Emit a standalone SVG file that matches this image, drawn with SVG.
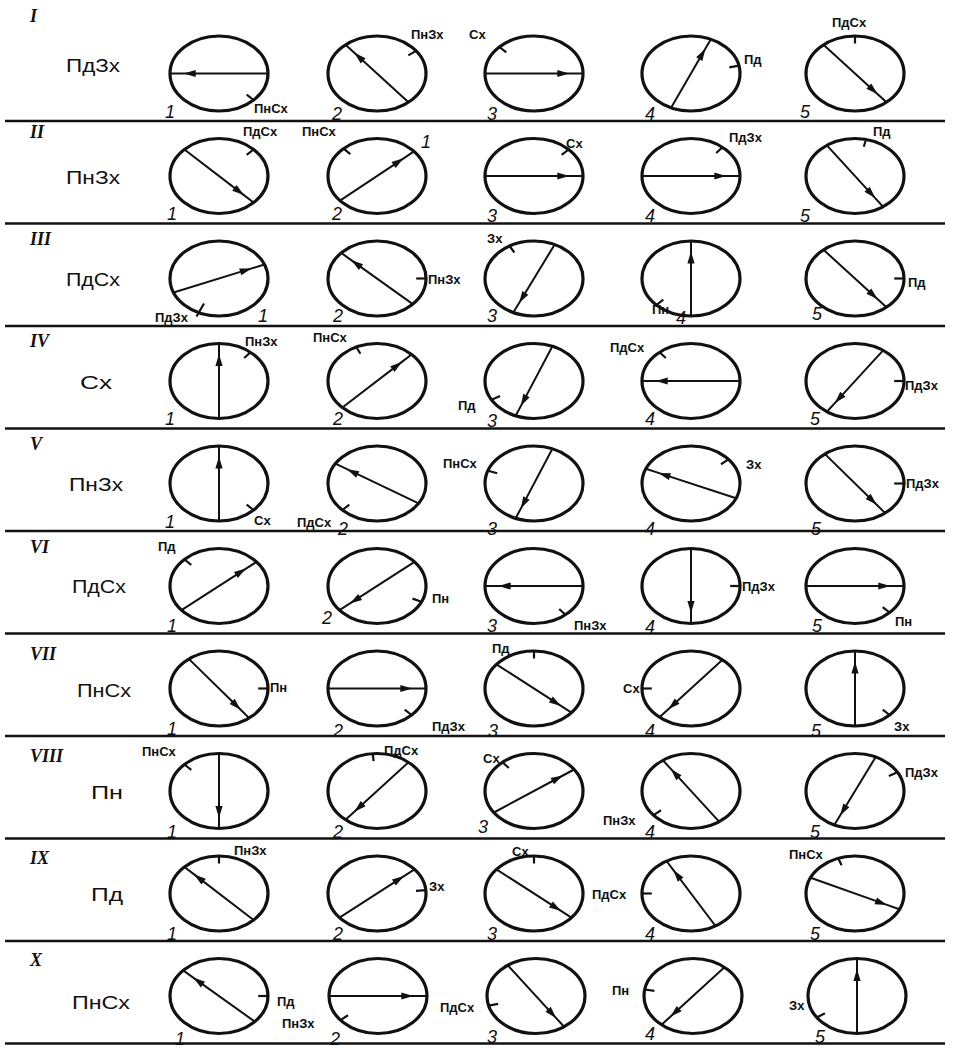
<svg xmlns="http://www.w3.org/2000/svg" width="960" height="1048" viewBox="0 0 960 1048">
<style>
.c{fill:none;stroke:#111;stroke-width:3.2}
.a{fill:none;stroke:#111;stroke-width:2;marker-mid:url(#ah)}
.t{stroke:#111;stroke-width:2.2}
.sep{stroke:#111;stroke-width:2.5}
.lb{font-family:"Liberation Sans",Arial,sans-serif;font-size:13px;font-weight:bold;fill:#111}
.rl{font-family:"Liberation Sans",Arial,sans-serif;font-size:19px;fill:#111}
.rn{font-family:"Liberation Serif","Times New Roman",serif;font-size:18px;font-weight:bold;font-style:italic;fill:#111}
.n{font-family:"Liberation Sans",Arial,sans-serif;font-size:18px;font-style:italic;fill:#111}
</style>
<defs>
<marker id="ah" viewBox="-13 -4.5 14 9" refX="0" refY="0" markerWidth="14" markerHeight="9" markerUnits="userSpaceOnUse" orient="auto"><path d="M0,0 L-12,-3.6 L-12,3.6 Z" fill="#111"/></marker>
</defs>
<rect width="960" height="1048" fill="#fff"/>
<g id="separators">
<line class="sep" x1="5" y1="121" x2="945" y2="121"/>
<line class="sep" x1="5" y1="223.5" x2="945" y2="223.5"/>
<line class="sep" x1="5" y1="326" x2="945" y2="326"/>
<line class="sep" x1="5" y1="428.5" x2="945" y2="428.5"/>
<line class="sep" x1="5" y1="531" x2="945" y2="531"/>
<line class="sep" x1="5" y1="633.5" x2="945" y2="633.5"/>
<line class="sep" x1="5" y1="736" x2="945" y2="736"/>
<line class="sep" x1="5" y1="838.5" x2="945" y2="838.5"/>
<line class="sep" x1="5" y1="941" x2="945" y2="941"/>
<line class="sep" x1="5" y1="1043.5" x2="945" y2="1043.5"/>
</g>
<g id="row-headers">
<text class="rn" x="30" y="22">I</text><text class="rl" x="66" y="72" textLength="54" lengthAdjust="spacingAndGlyphs">ПдЗх</text>
<text class="rn" x="30" y="138">II</text><text class="rl" x="66" y="184" textLength="54" lengthAdjust="spacingAndGlyphs">ПнЗх</text>
<text class="rn" x="30" y="245">III</text><text class="rl" x="66" y="286" textLength="54" lengthAdjust="spacingAndGlyphs">ПдСх</text>
<text class="rn" x="30" y="347">IV</text><text class="rl" x="80" y="389" textLength="32" lengthAdjust="spacingAndGlyphs">Сх</text>
<text class="rn" x="30" y="450">V</text><text class="rl" x="69" y="491" textLength="54" lengthAdjust="spacingAndGlyphs">ПнЗх</text>
<text class="rn" x="30" y="553">VI</text><text class="rl" x="72" y="593" textLength="54" lengthAdjust="spacingAndGlyphs">ПдСх</text>
<text class="rn" x="30" y="660">VII</text><text class="rl" x="77" y="697" textLength="54" lengthAdjust="spacingAndGlyphs">ПнСх</text>
<text class="rn" x="30" y="762">VIII</text><text class="rl" x="91" y="799" textLength="32" lengthAdjust="spacingAndGlyphs">Пн</text>
<text class="rn" x="30" y="864">IX</text><text class="rl" x="91" y="901" textLength="32" lengthAdjust="spacingAndGlyphs">Пд</text>
<text class="rn" x="30" y="966">X</text><text class="rl" x="72" y="1009" textLength="58" lengthAdjust="spacingAndGlyphs">ПнСх</text>
</g>

<!-- Row I -->
<g id="n1-1"><g transform="translate(219,73.5)"><ellipse class="c" rx="49" ry="37.5"/><path class="a" d="M49,0 L-35.3,0 L-49,0"/><line class="t" x1="27.7" y1="21.2" x2="34.6" y2="26.5"/></g><text class="lb" x="254" y="113">ПнСх</text><text class="n" x="165" y="118">1</text></g>
<g id="n1-2"><g transform="translate(377,73.5)"><ellipse class="c" rx="49" ry="37.5"/><path class="a" d="M31.5,28.7 L-22.7,-20.7 L-31.5,-28.7"/><line class="t" x1="31.3" y1="-18.1" x2="39.1" y2="-22.6"/></g><text class="lb" x="411" y="39">ПнЗх</text><text class="n" x="332" y="120">2</text></g>
<g id="n1-3"><g transform="translate(534,73.5)"><ellipse class="c" rx="49" ry="37.5"/><path class="a" d="M-49,0 L35.3,0 L49,0"/><line class="t" x1="-27.7" y1="-21.2" x2="-34.6" y2="-26.5"/></g><text class="lb" x="469" y="39">Сх</text><text class="n" x="487" y="120">3</text></g>
<g id="n1-4"><g transform="translate(691,73.5)"><ellipse class="c" rx="49" ry="37.5"/><path class="a" d="M-19.9,34.3 L14.3,-24.7 L19.9,-34.3"/><line class="t" x1="38.3" y1="-6.2" x2="47.9" y2="-7.8"/></g><text class="lb" x="744" y="64">Пд</text><text class="n" x="645" y="120">4</text></g>
<g id="n1-5"><g transform="translate(855,73.5)"><ellipse class="c" rx="49" ry="37.5"/><path class="a" d="M-31.5,-28.7 L22.7,20.7 L31.5,28.7"/><line class="t" x1="0" y1="-30" x2="0" y2="-37.5"/></g><text class="lb" x="832" y="27">ПдСх</text><text class="n" x="800" y="118">5</text></g>

<!-- Row II -->
<g id="n2-1"><g transform="translate(219,176)"><ellipse class="c" rx="49" ry="37.5"/><path class="a" d="M-34.6,-26.5 L24.9,19.1 L34.6,26.5"/><line class="t" x1="27.7" y1="-21.2" x2="34.6" y2="-26.5"/></g><text class="lb" x="243" y="136">ПдСх</text><text class="n" x="167" y="220">1</text></g>
<g id="n2-2"><g transform="translate(377,176)"><ellipse class="c" rx="49" ry="37.5"/><path class="a" d="M-37,24.6 L26.6,-17.7 L37,-24.6"/><line class="t" x1="-26.7" y1="-21.9" x2="-33.4" y2="-27.4"/></g><text class="lb" x="302" y="136">ПнСх</text><text class="n" x="421" y="148">1</text><text class="n" x="332" y="220">2</text></g>
<g id="n2-3"><g transform="translate(534,176)"><ellipse class="c" rx="49" ry="37.5"/><path class="a" d="M-49,0 L35.3,0 L49,0"/><line class="t" x1="27.7" y1="-21.2" x2="34.6" y2="-26.5"/></g><text class="lb" x="566" y="148">Сх</text><text class="n" x="487" y="222">3</text></g>
<g id="n2-4"><g transform="translate(691,176)"><ellipse class="c" rx="49" ry="37.5"/><path class="a" d="M-49,0 L35.3,0 L49,0"/><line class="t" x1="25.2" y1="-23" x2="31.5" y2="-28.7"/></g><text class="lb" x="729" y="142">ПдЗх</text><text class="n" x="645" y="222">4</text></g>
<g id="n2-5"><g transform="translate(855,176)"><ellipse class="c" rx="49" ry="37.5"/><path class="a" d="M-28.1,-30.7 L20.2,22.1 L28.1,30.7"/><line class="t" x1="8.8" y1="-29.2" x2="11" y2="-36.5"/></g><text class="lb" x="873" y="136">Пд</text><text class="n" x="800" y="222">5</text></g>

<!-- Row III -->
<g id="n3-1"><g transform="translate(219,278.5)"><ellipse class="c" rx="49" ry="37.5"/><path class="a" d="M-45.4,14 L32.7,-10.1 L45.4,-14"/><line class="t" x1="-15" y1="25" x2="-22.5" y2="38"/></g><text class="lb" x="155" y="322">ПдЗх</text><text class="n" x="258" y="322">1</text></g>
<g id="n3-2"><g transform="translate(377,278.5)"><ellipse class="c" rx="49" ry="37.5"/><path class="a" d="M35.8,25.6 L-25.8,-18.4 L-35.8,-25.6"/><line class="t" x1="39.2" y1="0" x2="50" y2="0"/></g><text class="lb" x="428" y="284">ПнЗх</text><text class="n" x="333" y="322">2</text></g>
<g id="n3-3"><g transform="translate(534,278.5)"><ellipse class="c" rx="49" ry="37.5"/><path class="a" d="M20.7,-34 L-14.9,24.5 L-20.7,34"/><line class="t" x1="-19.6" y1="-26" x2="-24.5" y2="-32.5"/></g><text class="lb" x="487" y="243">Зх</text><text class="n" x="487" y="322">3</text></g>
<g id="n3-4"><g transform="translate(691,278.5)"><ellipse class="c" rx="49" ry="37.5"/><path class="a" d="M0,37.5 L0,-27 L0,-37.5"/><line class="t" x1="-27.7" y1="21.2" x2="-34.6" y2="26.5"/></g><text class="lb" x="652" y="314">Пн</text><text class="n" x="676" y="324">4</text></g>
<g id="n3-5"><g transform="translate(855,278.5)"><ellipse class="c" rx="49" ry="37.5"/><path class="a" d="M-31.5,-28.7 L22.7,20.7 L31.5,28.7"/><line class="t" x1="39.2" y1="0" x2="50" y2="0"/></g><text class="lb" x="908" y="287">Пд</text><text class="n" x="812" y="320">5</text></g>

<!-- Row IV -->
<g id="n4-1"><g transform="translate(219,381)"><ellipse class="c" rx="49" ry="37.5"/><path class="a" d="M0,37.5 L0,-27 L0,-37.5"/><line class="t" x1="25.2" y1="-23" x2="31.5" y2="-28.7"/></g><text class="lb" x="245" y="346">ПнЗх</text><text class="n" x="165" y="425">1</text></g>
<g id="n4-2"><g transform="translate(377,381)"><ellipse class="c" rx="49" ry="37.5"/><path class="a" d="M-34.6,26.5 L24.9,-19.1 L34.6,-26.5"/><line class="t" x1="-16.6" y1="-27.2" x2="-20.7" y2="-34"/></g><text class="lb" x="313" y="342">ПнСх</text><text class="n" x="333" y="425">2</text></g>
<g id="n4-3"><g transform="translate(534,381)"><ellipse class="c" rx="49" ry="37.5"/><path class="a" d="M18.4,-34.8 L-13.2,25.1 L-18.4,34.8"/><line class="t" x1="-33.9" y1="15" x2="-42.4" y2="18.8"/></g><text class="lb" x="458" y="410">Пд</text><text class="n" x="487" y="427">3</text></g>
<g id="n4-4"><g transform="translate(691,381)"><ellipse class="c" rx="49" ry="37.5"/><path class="a" d="M49,0 L-35.3,0 L-49,0"/><line class="t" x1="-25.2" y1="-23" x2="-31.5" y2="-28.7"/></g><text class="lb" x="610" y="352">ПдСх</text><text class="n" x="645" y="425">4</text></g>
<g id="n4-5"><g transform="translate(855,381)"><ellipse class="c" rx="49" ry="37.5"/><path class="a" d="M28.1,-30.7 L-20.2,22.1 L-28.1,30.7"/><line class="t" x1="39.2" y1="0" x2="50" y2="0"/></g><text class="lb" x="905" y="390">ПдЗх</text><text class="n" x="810" y="425">5</text></g>

<!-- Row V -->
<g id="n5-1"><g transform="translate(219,483.5)"><ellipse class="c" rx="49" ry="37.5"/><path class="a" d="M0,37.5 L0,-27 L0,-37.5"/><line class="t" x1="27.7" y1="21.2" x2="34.6" y2="26.5"/></g><text class="lb" x="254" y="525">Сх</text><text class="n" x="165" y="528">1</text></g>
<g id="n5-2"><g transform="translate(377,483.5)"><ellipse class="c" rx="49" ry="37.5"/><path class="a" d="M41.6,19.9 L-30,-14.3 L-41.6,-19.9"/><line class="t" x1="-27.7" y1="21.2" x2="-34.6" y2="26.5"/></g><text class="lb" x="297" y="527">ПдСх</text><text class="n" x="338" y="535">2</text></g>
<g id="n5-3"><g transform="translate(534,483.5)"><ellipse class="c" rx="49" ry="37.5"/><path class="a" d="M18.4,-34.8 L-13.2,25.1 L-18.4,34.8"/><line class="t" x1="-36.8" y1="-10.2" x2="-46" y2="-12.8"/></g><text class="lb" x="443" y="468">ПнСх</text><text class="n" x="487" y="535">3</text></g>
<g id="n5-4"><g transform="translate(691,483.5)"><ellipse class="c" rx="49" ry="37.5"/><path class="a" d="M45.1,14.7 L-32.5,-10.6 L-45.1,-14.7"/><line class="t" x1="30" y1="-19.3" x2="37.5" y2="-24.1"/></g><text class="lb" x="746" y="469">Зх</text><text class="n" x="645" y="535">4</text></g>
<g id="n5-5"><g transform="translate(855,483.5)"><ellipse class="c" rx="49" ry="37.5"/><path class="a" d="M-30.2,-29.6 L21.7,21.3 L30.2,29.6"/><line class="t" x1="39.2" y1="0" x2="50" y2="0"/></g><text class="lb" x="906" y="488">ПдЗх</text><text class="n" x="811" y="535">5</text></g>

<!-- Row VI -->
<g id="n6-1"><g transform="translate(219,586)"><ellipse class="c" rx="49" ry="37.5"/><path class="a" d="M-37.5,24.1 L27,-17.4 L37.5,-24.1"/><line class="t" x1="-27.7" y1="-21.2" x2="-34.6" y2="-26.5"/></g><text class="lb" x="158" y="551">Пд</text><text class="n" x="167" y="632">1</text></g>
<g id="n6-2"><g transform="translate(377,586)"><ellipse class="c" rx="49" ry="37.5"/><path class="a" d="M37.5,-24.1 L-27,17.4 L-37.5,24.1"/><line class="t" x1="35.5" y1="12.6" x2="44.4" y2="15.8"/></g><text class="lb" x="432" y="603">Пн</text><text class="n" x="322" y="624">2</text></g>
<g id="n6-3"><g transform="translate(534,586)"><ellipse class="c" rx="49" ry="37.5"/><path class="a" d="M49,0 L-35.3,0 L-49,0"/><line class="t" x1="25.2" y1="23" x2="31.5" y2="28.7"/></g><text class="lb" x="574" y="630">ПнЗх</text><text class="n" x="487" y="632">3</text></g>
<g id="n6-4"><g transform="translate(691,586)"><ellipse class="c" rx="49" ry="37.5"/><path class="a" d="M0,-37.5 L0,27 L0,37.5"/><line class="t" x1="39.2" y1="0" x2="50" y2="0"/></g><text class="lb" x="742" y="591">ПдЗх</text><text class="n" x="645" y="633">4</text></g>
<g id="n6-5"><g transform="translate(855,586)"><ellipse class="c" rx="49" ry="37.5"/><path class="a" d="M-49,0 L35.3,0 L49,0"/><line class="t" x1="27.7" y1="21.2" x2="34.6" y2="26.5"/></g><text class="lb" x="895" y="626">Пн</text><text class="n" x="812" y="632">5</text></g>

<!-- Row VII -->
<g id="n7-1"><g transform="translate(219,688.5)"><ellipse class="c" rx="49" ry="37.5"/><path class="a" d="M-30.2,-29.6 L21.7,21.3 L30.2,29.6"/><line class="t" x1="39.2" y1="0" x2="50" y2="0"/></g><text class="lb" x="270" y="692">Пн</text><text class="n" x="167" y="735">1</text></g>
<g id="n7-2"><g transform="translate(377,688.5)"><ellipse class="c" rx="49" ry="37.5"/><path class="a" d="M-49,0 L35.3,0 L49,0"/><line class="t" x1="27.7" y1="21.2" x2="34.6" y2="26.5"/></g><text class="lb" x="432" y="731">ПдЗх</text><text class="n" x="333" y="737">2</text></g>
<g id="n7-3"><g transform="translate(534,688.5)"><ellipse class="c" rx="49" ry="37.5"/><path class="a" d="M-37.5,-24.1 L27,17.4 L37.5,24.1"/><line class="t" x1="0" y1="-30" x2="0" y2="-37.5"/></g><text class="lb" x="492" y="653">Пд</text><text class="n" x="488" y="737">3</text></g>
<g id="n7-4"><g transform="translate(691,688.5)"><ellipse class="c" rx="49" ry="37.5"/><path class="a" d="M31.5,-28.7 L-22.7,20.7 L-31.5,28.7"/><line class="t" x1="-39.2" y1="0" x2="-50" y2="0"/></g><text class="lb" x="623" y="693">Сх</text><text class="n" x="645" y="737">4</text></g>
<g id="n7-5"><g transform="translate(855,688.5)"><ellipse class="c" rx="49" ry="37.5"/><path class="a" d="M0,37.5 L0,-27 L0,-37.5"/><line class="t" x1="27.7" y1="21.2" x2="34.6" y2="26.5"/></g><text class="lb" x="894" y="731">Зх</text><text class="n" x="811" y="737">5</text></g>

<!-- Row VIII -->
<g id="n8-1"><g transform="translate(219,791)"><ellipse class="c" rx="49" ry="37.5"/><path class="a" d="M0,-37.5 L0,27 L0,37.5"/><line class="t" x1="-27.7" y1="-21.2" x2="-34.6" y2="-26.5"/></g><text class="lb" x="142" y="756">ПнСх</text><text class="n" x="167" y="838">1</text></g>
<g id="n8-2"><g transform="translate(377,791)"><ellipse class="c" rx="49" ry="37.5"/><path class="a" d="M31.5,-28.7 L-22.7,20.7 L-31.5,28.7"/><line class="t" x1="-3.4" y1="-29.9" x2="-4.3" y2="-37.4"/></g><text class="lb" x="384" y="755">ПдСх</text><text class="n" x="333" y="838">2</text></g>
<g id="n8-3"><g transform="translate(534,791)"><ellipse class="c" rx="49" ry="37.5"/><path class="a" d="M-40.1,21.5 L28.9,-15.5 L40.1,-21.5"/><line class="t" x1="-25.2" y1="-23" x2="-31.5" y2="-28.7"/></g><text class="lb" x="483" y="763">Сх</text><text class="n" x="478" y="833">3</text></g>
<g id="n8-4"><g transform="translate(691,791)"><ellipse class="c" rx="49" ry="37.5"/><path class="a" d="M28.1,30.7 L-20.2,-22.1 L-28.1,-30.7"/><line class="t" x1="-30" y1="19.3" x2="-37.5" y2="24.1"/></g><text class="lb" x="603" y="825">ПнЗх</text><text class="n" x="645" y="838">4</text></g>
<g id="n8-5"><g transform="translate(855,791)"><ellipse class="c" rx="49" ry="37.5"/><path class="a" d="M20.7,-34 L-14.9,24.5 L-20.7,34"/><line class="t" x1="33.9" y1="-15" x2="42.4" y2="-18.8"/></g><text class="lb" x="905" y="777">ПдЗх</text><text class="n" x="810" y="838">5</text></g>

<!-- Row IX -->
<g id="n9-1"><g transform="translate(219,893.5)"><ellipse class="c" rx="49" ry="37.5"/><path class="a" d="M34.6,26.5 L-24.9,-19.1 L-34.6,-26.5"/><line class="t" x1="0" y1="-30" x2="0" y2="-37.5"/></g><text class="lb" x="234" y="855">ПнЗх</text><text class="n" x="167" y="940">1</text></g>
<g id="n9-2"><g transform="translate(377,893.5)"><ellipse class="c" rx="49" ry="37.5"/><path class="a" d="M-37.5,24.1 L27,-17.4 L37.5,-24.1"/><line class="t" x1="39" y1="-2.6" x2="48.8" y2="-3.3"/></g><text class="lb" x="429" y="891">Зх</text><text class="n" x="333" y="940">2</text></g>
<g id="n9-3"><g transform="translate(534,893.5)"><ellipse class="c" rx="49" ry="37.5"/><path class="a" d="M-37.5,-24.1 L27,17.4 L37.5,24.1"/><line class="t" x1="0" y1="-30" x2="0" y2="-37.5"/></g><text class="lb" x="512" y="856">Сх</text><text class="n" x="487" y="940">3</text></g>
<g id="n9-4"><g transform="translate(691,893.5)"><ellipse class="c" rx="49" ry="37.5"/><path class="a" d="M24.5,32.5 L-17.6,-23.4 L-24.5,-32.5"/><line class="t" x1="-39.2" y1="0" x2="-50" y2="0"/></g><text class="lb" x="592" y="899">ПдСх</text><text class="n" x="645" y="940">4</text></g>
<g id="n9-5"><g transform="translate(855,893.5)"><ellipse class="c" rx="49" ry="37.5"/><path class="a" d="M-44.4,-15.8 L32,11.4 L44.4,15.8"/><line class="t" x1="-13.4" y1="-28.2" x2="-16.8" y2="-35.2"/></g><text class="lb" x="789" y="859">ПнСх</text><text class="n" x="810" y="940">5</text></g>

<!-- Row X -->
<g id="n10-1"><g transform="translate(219,996)"><ellipse class="c" rx="49" ry="37.5"/><path class="a" d="M35.8,25.6 L-25.8,-18.4 L-35.8,-25.6"/><line class="t" x1="39.2" y1="0" x2="50" y2="0"/></g><text class="lb" x="277" y="1006">Пд</text><text class="n" x="175" y="1045">1</text></g>
<g id="n10-2"><g transform="translate(378,996)"><ellipse class="c" rx="49" ry="37.5"/><path class="a" d="M-49,0 L35.3,0 L49,0"/><line class="t" x1="-30" y1="19.3" x2="-37.5" y2="24.1"/></g><text class="lb" x="282" y="1028">ПнЗх</text><text class="n" x="330" y="1045">2</text></g>
<g id="n10-3"><g transform="translate(536,996)"><ellipse class="c" rx="49" ry="37.5"/><path class="a" d="M-28.1,-30.7 L20.2,22.1 L28.1,30.7"/><line class="t" x1="-37.8" y1="7.8" x2="-47.3" y2="9.7"/></g><text class="lb" x="440" y="1012">ПдСх</text><text class="n" x="487" y="1043">3</text></g>
<g id="n10-4"><g transform="translate(693,996)"><ellipse class="c" rx="49" ry="37.5"/><path class="a" d="M31.5,-28.7 L-22.7,20.7 L-31.5,28.7"/><line class="t" x1="-38.6" y1="-5.2" x2="-48.3" y2="-6.5"/></g><text class="lb" x="612" y="995">Пн</text><text class="n" x="645" y="1040">4</text></g>
<g id="n10-5"><g transform="translate(857,996)"><ellipse class="c" rx="49" ry="37.5"/><path class="a" d="M0,37.5 L0,-27 L0,-37.5"/><line class="t" x1="-32.1" y1="17.2" x2="-40.1" y2="21.5"/></g><text class="lb" x="789" y="1010">Зх</text><text class="n" x="815" y="1043">5</text></g>
</svg>
